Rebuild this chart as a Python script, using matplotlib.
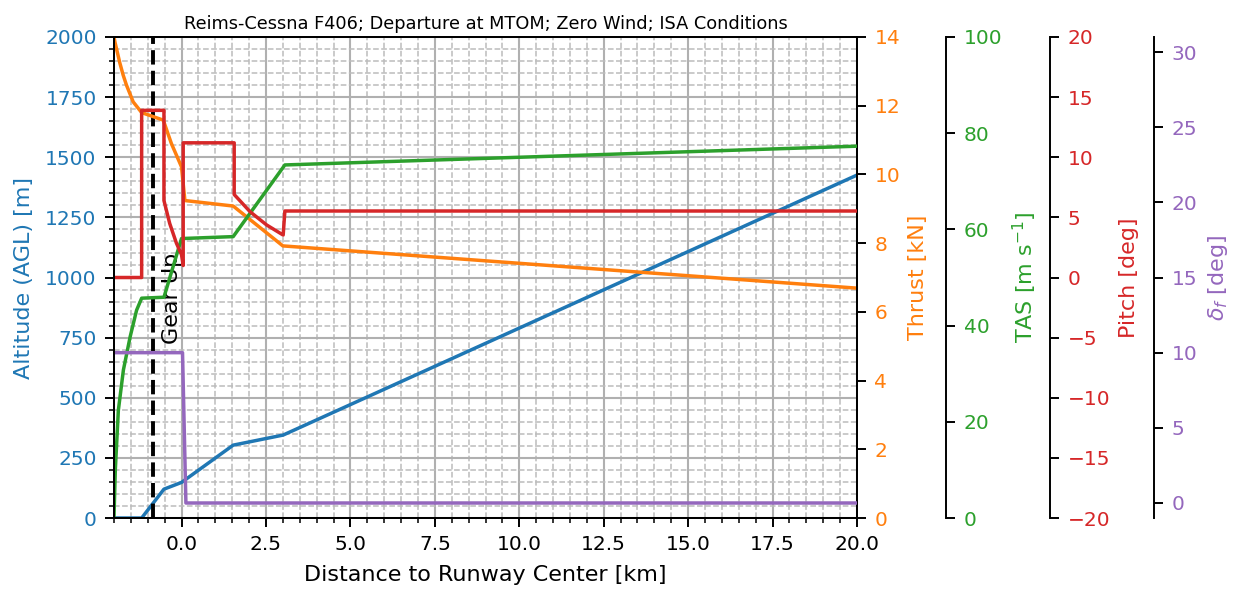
import numpy as np
import matplotlib.pyplot as plt
from matplotlib.ticker import MultipleLocator

# departure profile, distance in km relative to runway center
alt_x = [-2.0, -1.18, -0.52, 0.0, 1.53, 3.01, 20.0]
alt_m = [0, 0, 120, 148, 303, 345, 1426]

thr_x = [-2.0, -1.97, -1.93, -1.88, -1.83, -1.73, -1.63, -1.43, -1.18, -0.54, -0.30, 0.0, 0.10, 1.53, 3.0, 20.0]
thr_kN = [14.0, 13.85, 13.68, 13.47, 13.26, 12.9, 12.6, 12.11, 11.8, 11.58, 10.9, 10.22, 9.24, 9.08, 7.92, 6.69]

tas_x = [-2.0, -1.96, -1.87, -1.72, -1.52, -1.33, -1.18, -0.52, 0.0, 1.53, 3.06, 20.0]
tas_ms = [0, 10, 22.4, 30.8, 37.7, 43.2, 45.7, 45.9, 58.1, 58.5, 73.4, 77.3]

pitch_x = [-2.0, -1.18, -1.18, -0.52, -0.52, -0.35, -0.15, 0.0, 0.05, 0.05, 1.56, 1.56, 2.03, 2.52, 3.01, 3.06, 20.0]
pitch_deg = [0, 0, 13.9, 13.9, 6.4, 4.5, 2.85, 1.9, 1.0, 11.2, 11.2, 6.9, 5.47, 4.37, 3.53, 5.53, 5.53]

flap_x = [-2.0, 0.03, 0.13, 20.0]
flap_deg = [10, 10, 0, 0]

gear_up_x = -0.84

plt.rcParams['axes.linewidth'] = 1.4

fig, ax = plt.subplots(figsize=(12.36, 5.89), dpi=100)
fig.subplots_adjust(left=0.0922, right=0.6934, bottom=0.1205, top=0.9372)


def style_ticks(a, color):
    a.tick_params(which='major', labelsize=14.5, length=6.5, width=1.4, pad=6)
    a.tick_params(which='minor', length=3.5, width=1.1)
    a.tick_params(axis='y', labelcolor=color)


ax.plot(alt_x, alt_m, color='tab:blue', lw=2.5)
ax.axvline(gear_up_x, color='k', ls='--', lw=2.8)
ax.text(gear_up_x + 0.27, 740, 'Gear Up', rotation=90, fontsize=16)
ax.set_xlim(-2, 20)
ax.set_ylim(0, 2000)
ax.xaxis.set_major_locator(MultipleLocator(2.5))
ax.xaxis.set_minor_locator(MultipleLocator(0.5))
ax.yaxis.set_major_locator(MultipleLocator(250))
ax.yaxis.set_minor_locator(MultipleLocator(50))
ax.grid(which='major', color='#b0b0b0', lw=1.5)
ax.grid(which='minor', color='#bcbcbc', ls='--', lw=1.1)
ax.set_xlabel('Distance to Runway Center [km]', fontsize=16, labelpad=8)
ax.set_ylabel('Altitude (AGL) [m]', fontsize=16, color='tab:blue', labelpad=8)
style_ticks(ax, 'tab:blue')
ax.set_title('Reims-Cessna F406; Departure at MTOM; Zero Wind; ISA Conditions', fontsize=12.8)

ax_thr = ax.twinx()
ax_thr.plot(thr_x, thr_kN, color='tab:orange', lw=2.5)
ax_thr.set_ylim(0, 14)
ax_thr.yaxis.set_major_locator(MultipleLocator(2))
ax_thr.set_ylabel('Thrust [kN]', fontsize=16, color='tab:orange', labelpad=6)
style_ticks(ax_thr, 'tab:orange')

ax_tas = ax.twinx()
ax_tas.spines['right'].set_position(('axes', 1.12))
ax_tas.plot(tas_x, tas_ms, color='tab:green', lw=2.5)
ax_tas.set_ylim(0, 100)
ax_tas.yaxis.set_major_locator(MultipleLocator(20))
ax_tas.set_ylabel('TAS [m s$^{-1}$]', fontsize=16, color='tab:green', labelpad=6)
style_ticks(ax_tas, 'tab:green')

ax_pit = ax.twinx()
ax_pit.spines['right'].set_position(('axes', 1.26))
ax_pit.plot(pitch_x, pitch_deg, color='tab:red', lw=2.5)
ax_pit.set_ylim(-20, 20)
ax_pit.yaxis.set_major_locator(MultipleLocator(5))
ax_pit.set_ylabel('Pitch [deg]', fontsize=16, color='tab:red', labelpad=6)
style_ticks(ax_pit, 'tab:red')

ax_flp = ax.twinx()
ax_flp.spines['right'].set_position(('axes', 1.40))
ax_flp.plot(flap_x, flap_deg, color='tab:purple', lw=2.5)
ax_flp.set_ylim(-1, 31)
ax_flp.yaxis.set_major_locator(MultipleLocator(5))
ax_flp.set_ylabel(r'$\delta_f$ [deg]', fontsize=16, color='tab:purple', labelpad=6)
style_ticks(ax_flp, 'tab:purple')

fig.savefig('out.png', dpi=100)
